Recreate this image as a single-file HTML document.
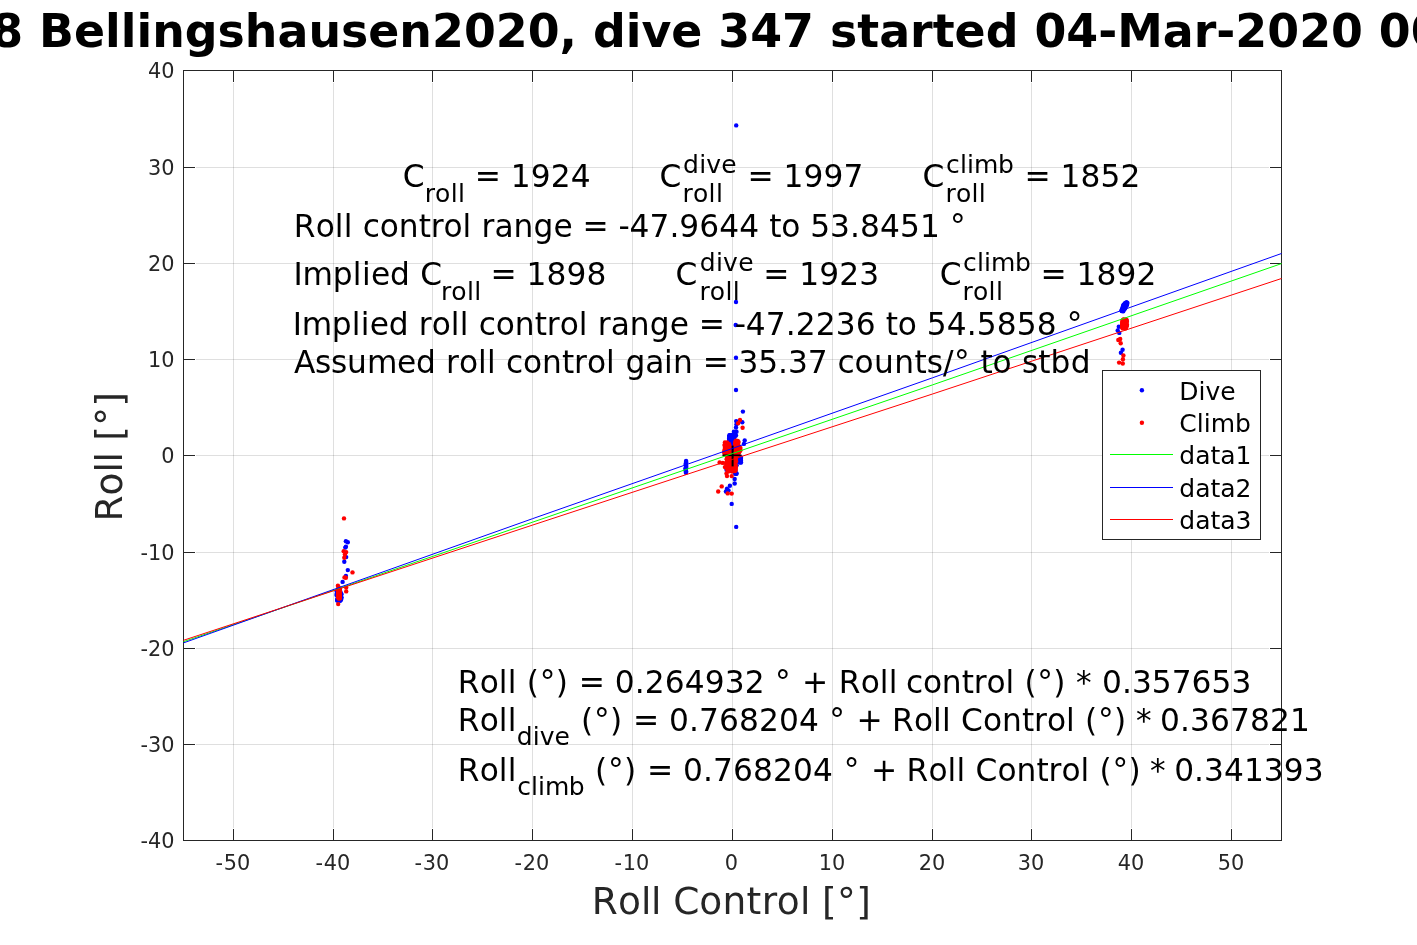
<!DOCTYPE html>
<html lang="en"><head><meta charset="utf-8"><title>Roll vs Roll Control</title>
<style>html,body{margin:0;padding:0;background:#fff;overflow:hidden}svg{display:block}text{font-family:"DejaVu Sans","Liberation Sans",sans-serif;white-space:pre}</style>
</head><body>
<svg width="1417" height="945" viewBox="0 0 1417 945">
<rect x="0" y="0" width="1417" height="945" fill="#fff"/>
<g stroke="#262626" stroke-opacity="0.15" stroke-width="1" shape-rendering="crispEdges">
<line x1="233.5" y1="83.0" x2="233.5" y2="828.0"/>
<line x1="333.5" y1="83.0" x2="333.5" y2="828.0"/>
<line x1="432.5" y1="83.0" x2="432.5" y2="828.0"/>
<line x1="532.5" y1="83.0" x2="532.5" y2="828.0"/>
<line x1="632.5" y1="83.0" x2="632.5" y2="828.0"/>
<line x1="732.5" y1="83.0" x2="732.5" y2="828.0"/>
<line x1="832.5" y1="83.0" x2="832.5" y2="828.0"/>
<line x1="932.5" y1="83.0" x2="932.5" y2="828.0"/>
<line x1="1031.5" y1="83.0" x2="1031.5" y2="828.0"/>
<line x1="1131.5" y1="83.0" x2="1131.5" y2="828.0"/>
<line x1="1231.5" y1="83.0" x2="1231.5" y2="828.0"/>
<line x1="196.0" y1="744.5" x2="1269.0" y2="744.5"/>
<line x1="196.0" y1="648.5" x2="1269.0" y2="648.5"/>
<line x1="196.0" y1="552.5" x2="1269.0" y2="552.5"/>
<line x1="196.0" y1="455.5" x2="1269.0" y2="455.5"/>
<line x1="196.0" y1="359.5" x2="1269.0" y2="359.5"/>
<line x1="196.0" y1="263.5" x2="1269.0" y2="263.5"/>
<line x1="196.0" y1="167.5" x2="1269.0" y2="167.5"/>
</g>
<g stroke="#262626" stroke-width="1" fill="none" shape-rendering="crispEdges">
<rect x="183.5" y="70.5" width="1098.0" height="770.0"/>
<line x1="233.5" y1="840.5" x2="233.5" y2="829.0"/><line x1="233.5" y1="70.5" x2="233.5" y2="82.0"/>
<line x1="333.5" y1="840.5" x2="333.5" y2="829.0"/><line x1="333.5" y1="70.5" x2="333.5" y2="82.0"/>
<line x1="432.5" y1="840.5" x2="432.5" y2="829.0"/><line x1="432.5" y1="70.5" x2="432.5" y2="82.0"/>
<line x1="532.5" y1="840.5" x2="532.5" y2="829.0"/><line x1="532.5" y1="70.5" x2="532.5" y2="82.0"/>
<line x1="632.5" y1="840.5" x2="632.5" y2="829.0"/><line x1="632.5" y1="70.5" x2="632.5" y2="82.0"/>
<line x1="732.5" y1="840.5" x2="732.5" y2="829.0"/><line x1="732.5" y1="70.5" x2="732.5" y2="82.0"/>
<line x1="832.5" y1="840.5" x2="832.5" y2="829.0"/><line x1="832.5" y1="70.5" x2="832.5" y2="82.0"/>
<line x1="932.5" y1="840.5" x2="932.5" y2="829.0"/><line x1="932.5" y1="70.5" x2="932.5" y2="82.0"/>
<line x1="1031.5" y1="840.5" x2="1031.5" y2="829.0"/><line x1="1031.5" y1="70.5" x2="1031.5" y2="82.0"/>
<line x1="1131.5" y1="840.5" x2="1131.5" y2="829.0"/><line x1="1131.5" y1="70.5" x2="1131.5" y2="82.0"/>
<line x1="1231.5" y1="840.5" x2="1231.5" y2="829.0"/><line x1="1231.5" y1="70.5" x2="1231.5" y2="82.0"/>
<line x1="183.5" y1="744.5" x2="195.0" y2="744.5"/><line x1="1281.5" y1="744.5" x2="1270.0" y2="744.5"/>
<line x1="183.5" y1="648.5" x2="195.0" y2="648.5"/><line x1="1281.5" y1="648.5" x2="1270.0" y2="648.5"/>
<line x1="183.5" y1="552.5" x2="195.0" y2="552.5"/><line x1="1281.5" y1="552.5" x2="1270.0" y2="552.5"/>
<line x1="183.5" y1="455.5" x2="195.0" y2="455.5"/><line x1="1281.5" y1="455.5" x2="1270.0" y2="455.5"/>
<line x1="183.5" y1="359.5" x2="195.0" y2="359.5"/><line x1="1281.5" y1="359.5" x2="1270.0" y2="359.5"/>
<line x1="183.5" y1="263.5" x2="195.0" y2="263.5"/><line x1="1281.5" y1="263.5" x2="1270.0" y2="263.5"/>
<line x1="183.5" y1="167.5" x2="195.0" y2="167.5"/><line x1="1281.5" y1="167.5" x2="1270.0" y2="167.5"/>
</g>
<g fill="#0000ff">
<circle cx="736.2" cy="125.4" r="2.2"/><circle cx="736.0" cy="302.0" r="2.2"/><circle cx="735.7" cy="325.0" r="2.2"/><circle cx="736.0" cy="357.8" r="2.2"/><circle cx="736.0" cy="390.0" r="2.2"/><circle cx="742.9" cy="411.6" r="2.2"/><circle cx="736.2" cy="421.1" r="2.2"/><circle cx="742.3" cy="422.2" r="2.2"/><circle cx="736.5" cy="424.3" r="2.2"/><circle cx="736.0" cy="427.5" r="2.2"/><circle cx="733.9" cy="431.7" r="2.2"/><circle cx="736.5" cy="431.7" r="2.2"/><circle cx="731.2" cy="435.9" r="2.2"/><circle cx="736.0" cy="435.4" r="2.2"/><circle cx="744.7" cy="440.5" r="2.2"/><circle cx="743.9" cy="443.9" r="2.2"/><circle cx="740.7" cy="458.7" r="2.2"/><circle cx="740.7" cy="461.3" r="2.2"/><circle cx="726.5" cy="469.8" r="2.2"/><circle cx="736.5" cy="473.5" r="2.2"/><circle cx="734.7" cy="479.0" r="2.2"/><circle cx="734.7" cy="483.5" r="2.2"/><circle cx="729.9" cy="485.7" r="2.2"/><circle cx="727.0" cy="488.8" r="2.2"/><circle cx="725.9" cy="491.5" r="2.2"/><circle cx="728.5" cy="490.5" r="2.2"/><circle cx="731.7" cy="503.9" r="2.2"/><circle cx="736.2" cy="526.9" r="2.2"/><circle cx="730.9" cy="435.8" r="2.2"/><circle cx="732.9" cy="435.0" r="2.2"/><circle cx="732.2" cy="437.8" r="2.2"/><circle cx="729.3" cy="439.2" r="2.2"/><circle cx="729.2" cy="438.5" r="2.2"/><circle cx="729.4" cy="435.2" r="2.2"/><circle cx="731.5" cy="442.3" r="2.2"/><circle cx="729.7" cy="436.5" r="2.2"/><circle cx="732.8" cy="443.5" r="2.2"/><circle cx="732.5" cy="438.1" r="2.2"/><circle cx="734.9" cy="434.8" r="2.2"/><circle cx="734.2" cy="437.1" r="2.2"/><circle cx="729.9" cy="435.4" r="2.2"/><circle cx="730.9" cy="442.2" r="2.2"/><circle cx="730.1" cy="439.9" r="2.2"/><circle cx="732.8" cy="437.9" r="2.2"/><circle cx="732.3" cy="434.9" r="2.2"/><circle cx="729.4" cy="436.3" r="2.2"/><circle cx="733.1" cy="438.4" r="2.2"/><circle cx="730.9" cy="440.0" r="2.2"/><circle cx="731.7" cy="437.2" r="2.2"/><circle cx="733.8" cy="441.1" r="2.2"/><circle cx="730.5" cy="439.9" r="2.2"/><circle cx="732.2" cy="442.8" r="2.2"/><circle cx="733.4" cy="437.1" r="2.2"/><circle cx="734.9" cy="435.4" r="2.2"/><circle cx="731.5" cy="441.6" r="2.2"/><circle cx="729.9" cy="439.0" r="2.2"/><circle cx="729.2" cy="440.8" r="2.2"/><circle cx="733.6" cy="439.9" r="2.2"/><circle cx="734.3" cy="437.3" r="2.2"/><circle cx="733.2" cy="440.1" r="2.2"/><circle cx="732.5" cy="438.7" r="2.2"/><circle cx="734.0" cy="443.5" r="2.2"/><circle cx="731.8" cy="440.7" r="2.2"/><circle cx="729.4" cy="441.1" r="2.2"/><circle cx="732.9" cy="443.9" r="2.2"/><circle cx="733.9" cy="437.1" r="2.2"/><circle cx="731.3" cy="440.8" r="2.2"/><circle cx="729.1" cy="438.8" r="2.2"/><circle cx="730.0" cy="435.4" r="2.2"/><circle cx="729.4" cy="441.8" r="2.2"/><circle cx="729.8" cy="436.7" r="2.2"/><circle cx="731.3" cy="442.8" r="2.2"/><circle cx="729.5" cy="438.7" r="2.2"/><circle cx="733.3" cy="454.6" r="2.2"/><circle cx="734.9" cy="454.4" r="2.2"/><circle cx="731.7" cy="449.0" r="2.2"/><circle cx="732.2" cy="454.6" r="2.2"/><circle cx="735.7" cy="445.8" r="2.2"/><circle cx="731.1" cy="446.8" r="2.2"/><circle cx="731.4" cy="449.8" r="2.2"/><circle cx="733.5" cy="447.2" r="2.2"/><circle cx="730.0" cy="449.0" r="2.2"/><circle cx="732.2" cy="450.8" r="2.2"/><circle cx="735.7" cy="452.3" r="2.2"/><circle cx="733.1" cy="451.4" r="2.2"/><circle cx="734.1" cy="444.6" r="2.2"/><circle cx="735.4" cy="453.4" r="2.2"/><circle cx="735.2" cy="453.6" r="2.2"/><circle cx="732.4" cy="448.8" r="2.2"/><circle cx="730.6" cy="451.6" r="2.2"/><circle cx="730.4" cy="444.8" r="2.2"/><circle cx="731.3" cy="445.9" r="2.2"/><circle cx="732.0" cy="444.6" r="2.2"/><circle cx="730.0" cy="445.8" r="2.2"/><circle cx="730.6" cy="448.4" r="2.2"/><circle cx="730.2" cy="454.5" r="2.2"/><circle cx="733.7" cy="445.8" r="2.2"/><circle cx="731.5" cy="448.2" r="2.2"/><circle cx="740.0" cy="457.7" r="2.2"/><circle cx="741.0" cy="462.5" r="2.2"/><circle cx="740.2" cy="459.7" r="2.2"/><circle cx="739.5" cy="457.6" r="2.2"/><circle cx="740.0" cy="458.5" r="2.2"/><circle cx="741.0" cy="457.9" r="2.2"/><circle cx="739.3" cy="462.2" r="2.2"/><circle cx="740.4" cy="457.8" r="2.2"/><circle cx="740.4" cy="457.1" r="2.2"/><circle cx="740.4" cy="462.4" r="2.2"/><circle cx="741.0" cy="460.8" r="2.2"/><circle cx="739.8" cy="459.0" r="2.2"/><circle cx="739.6" cy="461.2" r="2.2"/><circle cx="740.4" cy="461.3" r="2.2"/><circle cx="730.3" cy="461.6" r="2.2"/><circle cx="735.1" cy="473.8" r="2.2"/><circle cx="735.5" cy="470.9" r="2.2"/><circle cx="735.2" cy="469.8" r="2.2"/><circle cx="729.3" cy="466.3" r="2.2"/><circle cx="730.6" cy="458.5" r="2.2"/><circle cx="727.3" cy="462.5" r="2.2"/><circle cx="729.6" cy="469.1" r="2.2"/><circle cx="736.6" cy="465.2" r="2.2"/><circle cx="736.4" cy="473.8" r="2.2"/><circle cx="345.9" cy="541.3" r="2.2"/><circle cx="347.8" cy="542.3" r="2.2"/><circle cx="345.9" cy="546.7" r="2.2"/><circle cx="345.3" cy="547.6" r="2.2"/><circle cx="346.2" cy="557.1" r="2.2"/><circle cx="344.3" cy="561.8" r="2.2"/><circle cx="347.8" cy="570.1" r="2.2"/><circle cx="345.9" cy="575.9" r="2.2"/><circle cx="342.6" cy="581.9" r="2.2"/><circle cx="336.9" cy="593.5" r="2.2"/><circle cx="339.6" cy="597.8" r="2.2"/><circle cx="336.8" cy="591.7" r="2.2"/><circle cx="339.0" cy="596.7" r="2.2"/><circle cx="338.3" cy="593.2" r="2.2"/><circle cx="339.4" cy="591.1" r="2.2"/><circle cx="337.8" cy="595.5" r="2.2"/><circle cx="341.4" cy="597.3" r="2.2"/><circle cx="341.0" cy="595.7" r="2.2"/><circle cx="337.5" cy="593.4" r="2.2"/><circle cx="341.4" cy="597.9" r="2.2"/><circle cx="337.9" cy="591.2" r="2.2"/><circle cx="338.9" cy="597.6" r="2.2"/><circle cx="338.5" cy="593.5" r="2.2"/><circle cx="339.8" cy="600.1" r="2.2"/><circle cx="337.4" cy="591.3" r="2.2"/><circle cx="338.0" cy="595.1" r="2.2"/><circle cx="339.9" cy="592.9" r="2.2"/><circle cx="340.5" cy="598.2" r="2.2"/><circle cx="338.9" cy="593.0" r="2.2"/><circle cx="341.4" cy="594.1" r="2.2"/><circle cx="340.6" cy="593.3" r="2.2"/><circle cx="337.4" cy="598.5" r="2.2"/><circle cx="337.8" cy="600.3" r="2.2"/><circle cx="338.9" cy="592.8" r="2.2"/><circle cx="337.4" cy="595.1" r="2.2"/><circle cx="339.8" cy="600.3" r="2.2"/><circle cx="337.0" cy="594.9" r="2.2"/><circle cx="337.3" cy="600.5" r="2.2"/><circle cx="337.0" cy="591.5" r="2.2"/><circle cx="336.5" cy="594.9" r="2.2"/><circle cx="341.1" cy="599.7" r="2.2"/><circle cx="340.2" cy="600.8" r="2.2"/><circle cx="341.2" cy="594.2" r="2.2"/><circle cx="337.2" cy="600.2" r="2.2"/><circle cx="340.2" cy="591.3" r="2.2"/><circle cx="339.8" cy="594.7" r="2.2"/><circle cx="338.2" cy="594.3" r="2.2"/><circle cx="337.1" cy="591.0" r="2.2"/><circle cx="337.7" cy="594.4" r="2.2"/><circle cx="686.1" cy="461.0" r="2.2"/><circle cx="686.0" cy="461.9" r="2.2"/><circle cx="686.2" cy="462.8" r="2.2"/><circle cx="685.7" cy="463.7" r="2.2"/><circle cx="685.9" cy="464.6" r="2.2"/><circle cx="686.1" cy="465.5" r="2.2"/><circle cx="686.1" cy="466.4" r="2.2"/><circle cx="686.1" cy="467.3" r="2.2"/><circle cx="685.6" cy="468.2" r="2.2"/><circle cx="685.8" cy="469.1" r="2.2"/><circle cx="685.7" cy="470.0" r="2.2"/><circle cx="685.7" cy="470.9" r="2.2"/><circle cx="686.2" cy="471.8" r="2.2"/><circle cx="685.9" cy="472.7" r="2.2"/><circle cx="1122.5" cy="310.9" r="2.2"/><circle cx="1123.9" cy="307.2" r="2.2"/><circle cx="1121.6" cy="310.3" r="2.2"/><circle cx="1123.1" cy="307.3" r="2.2"/><circle cx="1124.8" cy="303.5" r="2.2"/><circle cx="1124.5" cy="306.7" r="2.2"/><circle cx="1125.6" cy="303.8" r="2.2"/><circle cx="1125.0" cy="303.7" r="2.2"/><circle cx="1123.5" cy="307.7" r="2.2"/><circle cx="1125.5" cy="304.1" r="2.2"/><circle cx="1122.7" cy="306.9" r="2.2"/><circle cx="1123.4" cy="307.6" r="2.2"/><circle cx="1126.5" cy="304.9" r="2.2"/><circle cx="1123.7" cy="307.0" r="2.2"/><circle cx="1124.6" cy="309.0" r="2.2"/><circle cx="1126.2" cy="303.8" r="2.2"/><circle cx="1127.4" cy="303.0" r="2.2"/><circle cx="1123.0" cy="310.2" r="2.2"/><circle cx="1123.5" cy="305.2" r="2.2"/><circle cx="1124.6" cy="308.3" r="2.2"/><circle cx="1126.2" cy="303.5" r="2.2"/><circle cx="1123.3" cy="306.2" r="2.2"/><circle cx="1125.6" cy="305.9" r="2.2"/><circle cx="1125.3" cy="308.0" r="2.2"/><circle cx="1124.4" cy="305.9" r="2.2"/><circle cx="1122.6" cy="309.0" r="2.2"/><circle cx="1122.5" cy="311.0" r="2.2"/><circle cx="1124.9" cy="306.7" r="2.2"/><circle cx="1122.5" cy="308.6" r="2.2"/><circle cx="1124.1" cy="308.4" r="2.2"/><circle cx="1125.1" cy="304.8" r="2.2"/><circle cx="1123.7" cy="305.3" r="2.2"/><circle cx="1124.8" cy="307.1" r="2.2"/><circle cx="1124.9" cy="306.0" r="2.2"/><circle cx="1122.0" cy="309.5" r="2.2"/><circle cx="1124.6" cy="306.6" r="2.2"/><circle cx="1124.9" cy="306.0" r="2.2"/><circle cx="1123.7" cy="307.8" r="2.2"/><circle cx="1126.5" cy="303.3" r="2.2"/><circle cx="1126.1" cy="305.7" r="2.2"/><circle cx="1123.6" cy="306.4" r="2.2"/><circle cx="1124.7" cy="303.8" r="2.2"/><circle cx="1125.7" cy="303.9" r="2.2"/><circle cx="1126.5" cy="302.3" r="2.2"/><circle cx="1124.4" cy="308.5" r="2.2"/><circle cx="1126.0" cy="303.2" r="2.2"/><circle cx="1121.7" cy="311.0" r="2.2"/><circle cx="1123.3" cy="311.3" r="2.2"/><circle cx="1126.9" cy="304.6" r="2.2"/><circle cx="1124.0" cy="309.2" r="2.2"/><circle cx="1124.7" cy="307.7" r="2.2"/><circle cx="1125.7" cy="304.8" r="2.2"/><circle cx="1122.3" cy="310.5" r="2.2"/><circle cx="1125.7" cy="305.4" r="2.2"/><circle cx="1124.7" cy="304.7" r="2.2"/><circle cx="1123.7" cy="304.6" r="2.2"/><circle cx="1126.9" cy="304.9" r="2.2"/><circle cx="1122.0" cy="310.4" r="2.2"/><circle cx="1125.9" cy="304.4" r="2.2"/><circle cx="1126.0" cy="305.9" r="2.2"/><circle cx="1118.8" cy="326.7" r="2.2"/><circle cx="1117.7" cy="330.5" r="2.2"/><circle cx="1119.3" cy="332.9" r="2.2"/><circle cx="1122.6" cy="349.8" r="2.2"/><circle cx="1120.9" cy="352.7" r="2.2"/>
</g>
<g fill="#ff0000">
<circle cx="740.0" cy="420.0" r="2.2"/><circle cx="738.1" cy="423.2" r="2.2"/><circle cx="742.6" cy="427.8" r="2.2"/><circle cx="719.6" cy="462.4" r="2.2"/><circle cx="722.8" cy="462.9" r="2.2"/><circle cx="724.9" cy="467.1" r="2.2"/><circle cx="726.5" cy="473.5" r="2.2"/><circle cx="727.0" cy="476.1" r="2.2"/><circle cx="731.7" cy="476.1" r="2.2"/><circle cx="721.7" cy="486.4" r="2.2"/><circle cx="718.2" cy="491.5" r="2.2"/><circle cx="727.7" cy="493.4" r="2.2"/><circle cx="731.7" cy="493.6" r="2.2"/><circle cx="729.5" cy="446.9" r="2.2"/><circle cx="725.4" cy="445.2" r="2.2"/><circle cx="725.3" cy="444.9" r="2.2"/><circle cx="727.7" cy="453.7" r="2.2"/><circle cx="728.9" cy="448.4" r="2.2"/><circle cx="727.9" cy="452.5" r="2.2"/><circle cx="724.7" cy="450.7" r="2.2"/><circle cx="729.3" cy="452.2" r="2.2"/><circle cx="728.4" cy="448.4" r="2.2"/><circle cx="725.2" cy="452.3" r="2.2"/><circle cx="726.1" cy="452.5" r="2.2"/><circle cx="729.6" cy="447.3" r="2.2"/><circle cx="726.4" cy="454.3" r="2.2"/><circle cx="728.3" cy="444.5" r="2.2"/><circle cx="724.9" cy="444.2" r="2.2"/><circle cx="729.3" cy="452.5" r="2.2"/><circle cx="725.0" cy="452.8" r="2.2"/><circle cx="729.7" cy="450.6" r="2.2"/><circle cx="726.2" cy="449.3" r="2.2"/><circle cx="724.9" cy="442.5" r="2.2"/><circle cx="729.6" cy="450.6" r="2.2"/><circle cx="727.1" cy="454.2" r="2.2"/><circle cx="726.6" cy="453.4" r="2.2"/><circle cx="728.8" cy="445.0" r="2.2"/><circle cx="725.6" cy="446.0" r="2.2"/><circle cx="725.5" cy="449.7" r="2.2"/><circle cx="725.7" cy="447.6" r="2.2"/><circle cx="724.9" cy="453.9" r="2.2"/><circle cx="726.2" cy="448.1" r="2.2"/><circle cx="727.5" cy="453.8" r="2.2"/><circle cx="726.6" cy="454.0" r="2.2"/><circle cx="727.0" cy="449.1" r="2.2"/><circle cx="727.1" cy="442.5" r="2.2"/><circle cx="726.7" cy="444.6" r="2.2"/><circle cx="724.2" cy="452.4" r="2.2"/><circle cx="725.2" cy="448.3" r="2.2"/><circle cx="728.3" cy="449.4" r="2.2"/><circle cx="726.0" cy="448.9" r="2.2"/><circle cx="727.3" cy="452.3" r="2.2"/><circle cx="724.8" cy="449.4" r="2.2"/><circle cx="725.6" cy="445.8" r="2.2"/><circle cx="728.5" cy="448.7" r="2.2"/><circle cx="727.3" cy="452.0" r="2.2"/><circle cx="729.3" cy="447.9" r="2.2"/><circle cx="727.6" cy="448.7" r="2.2"/><circle cx="727.1" cy="451.1" r="2.2"/><circle cx="726.7" cy="449.1" r="2.2"/><circle cx="726.9" cy="454.3" r="2.2"/><circle cx="728.1" cy="453.4" r="2.2"/><circle cx="729.5" cy="445.6" r="2.2"/><circle cx="727.3" cy="454.3" r="2.2"/><circle cx="728.9" cy="444.0" r="2.2"/><circle cx="724.9" cy="447.9" r="2.2"/><circle cx="724.6" cy="445.4" r="2.2"/><circle cx="724.6" cy="450.8" r="2.2"/><circle cx="728.6" cy="453.7" r="2.2"/><circle cx="725.1" cy="451.4" r="2.2"/><circle cx="727.9" cy="444.1" r="2.2"/><circle cx="729.1" cy="454.6" r="2.2"/><circle cx="725.4" cy="454.4" r="2.2"/><circle cx="736.6" cy="447.6" r="2.2"/><circle cx="738.8" cy="452.6" r="2.2"/><circle cx="735.8" cy="446.8" r="2.2"/><circle cx="737.1" cy="445.5" r="2.2"/><circle cx="735.9" cy="445.2" r="2.2"/><circle cx="737.8" cy="440.9" r="2.2"/><circle cx="737.2" cy="446.9" r="2.2"/><circle cx="735.3" cy="445.4" r="2.2"/><circle cx="737.4" cy="448.0" r="2.2"/><circle cx="735.4" cy="454.8" r="2.2"/><circle cx="738.0" cy="454.6" r="2.2"/><circle cx="735.6" cy="444.4" r="2.2"/><circle cx="735.3" cy="451.8" r="2.2"/><circle cx="736.2" cy="442.5" r="2.2"/><circle cx="736.7" cy="453.7" r="2.2"/><circle cx="738.1" cy="444.3" r="2.2"/><circle cx="735.7" cy="453.8" r="2.2"/><circle cx="737.3" cy="450.7" r="2.2"/><circle cx="735.5" cy="441.4" r="2.2"/><circle cx="737.7" cy="446.7" r="2.2"/><circle cx="735.5" cy="454.1" r="2.2"/><circle cx="737.5" cy="452.1" r="2.2"/><circle cx="735.5" cy="452.9" r="2.2"/><circle cx="735.4" cy="453.0" r="2.2"/><circle cx="736.8" cy="445.5" r="2.2"/><circle cx="737.2" cy="453.9" r="2.2"/><circle cx="736.2" cy="442.5" r="2.2"/><circle cx="737.1" cy="444.0" r="2.2"/><circle cx="735.6" cy="442.9" r="2.2"/><circle cx="735.4" cy="443.5" r="2.2"/><circle cx="736.3" cy="445.0" r="2.2"/><circle cx="737.9" cy="444.8" r="2.2"/><circle cx="737.0" cy="443.2" r="2.2"/><circle cx="736.4" cy="440.9" r="2.2"/><circle cx="736.1" cy="440.8" r="2.2"/><circle cx="737.8" cy="448.5" r="2.2"/><circle cx="735.9" cy="447.4" r="2.2"/><circle cx="738.6" cy="442.1" r="2.2"/><circle cx="738.1" cy="446.8" r="2.2"/><circle cx="737.0" cy="452.6" r="2.2"/><circle cx="736.6" cy="447.9" r="2.2"/><circle cx="737.7" cy="454.7" r="2.2"/><circle cx="736.4" cy="452.6" r="2.2"/><circle cx="737.7" cy="449.8" r="2.2"/><circle cx="736.7" cy="445.6" r="2.2"/><circle cx="735.4" cy="442.5" r="2.2"/><circle cx="735.5" cy="451.3" r="2.2"/><circle cx="736.1" cy="443.0" r="2.2"/><circle cx="735.5" cy="452.7" r="2.2"/><circle cx="738.3" cy="450.3" r="2.2"/><circle cx="737.3" cy="448.5" r="2.2"/><circle cx="737.3" cy="449.8" r="2.2"/><circle cx="736.7" cy="449.7" r="2.2"/><circle cx="737.2" cy="452.8" r="2.2"/><circle cx="740.4" cy="450.3" r="2.2"/><circle cx="737.1" cy="452.8" r="2.2"/><circle cx="737.4" cy="449.1" r="2.2"/><circle cx="736.0" cy="449.3" r="2.2"/><circle cx="738.1" cy="450.0" r="2.2"/><circle cx="736.9" cy="450.0" r="2.2"/><circle cx="736.0" cy="448.6" r="2.2"/><circle cx="736.4" cy="449.4" r="2.2"/><circle cx="736.2" cy="447.1" r="2.2"/><circle cx="737.4" cy="448.4" r="2.2"/><circle cx="738.6" cy="450.2" r="2.2"/><circle cx="739.4" cy="450.9" r="2.2"/><circle cx="739.2" cy="452.3" r="2.2"/><circle cx="737.8" cy="449.0" r="2.2"/><circle cx="740.4" cy="447.9" r="2.2"/><circle cx="739.3" cy="450.9" r="2.2"/><circle cx="734.8" cy="455.7" r="2.2"/><circle cx="732.5" cy="469.7" r="2.2"/><circle cx="734.3" cy="467.1" r="2.2"/><circle cx="731.6" cy="457.3" r="2.2"/><circle cx="734.7" cy="463.3" r="2.2"/><circle cx="734.3" cy="468.3" r="2.2"/><circle cx="735.3" cy="464.6" r="2.2"/><circle cx="733.2" cy="466.3" r="2.2"/><circle cx="726.7" cy="458.8" r="2.2"/><circle cx="730.0" cy="457.2" r="2.2"/><circle cx="734.8" cy="456.7" r="2.2"/><circle cx="732.7" cy="464.2" r="2.2"/><circle cx="733.1" cy="465.3" r="2.2"/><circle cx="726.4" cy="463.1" r="2.2"/><circle cx="733.6" cy="468.2" r="2.2"/><circle cx="731.8" cy="463.3" r="2.2"/><circle cx="727.3" cy="465.9" r="2.2"/><circle cx="729.1" cy="467.2" r="2.2"/><circle cx="729.1" cy="456.2" r="2.2"/><circle cx="728.7" cy="467.0" r="2.2"/><circle cx="735.8" cy="467.2" r="2.2"/><circle cx="730.2" cy="463.2" r="2.2"/><circle cx="733.2" cy="462.9" r="2.2"/><circle cx="732.5" cy="467.7" r="2.2"/><circle cx="727.3" cy="465.6" r="2.2"/><circle cx="728.9" cy="457.4" r="2.2"/><circle cx="729.6" cy="467.3" r="2.2"/><circle cx="726.6" cy="464.4" r="2.2"/><circle cx="729.1" cy="456.0" r="2.2"/><circle cx="733.2" cy="466.1" r="2.2"/><circle cx="729.4" cy="466.1" r="2.2"/><circle cx="731.0" cy="463.5" r="2.2"/><circle cx="727.6" cy="462.7" r="2.2"/><circle cx="728.8" cy="469.7" r="2.2"/><circle cx="735.0" cy="471.1" r="2.2"/><circle cx="731.0" cy="455.3" r="2.2"/><circle cx="735.6" cy="468.5" r="2.2"/><circle cx="729.1" cy="462.4" r="2.2"/><circle cx="735.9" cy="458.5" r="2.2"/><circle cx="732.2" cy="458.5" r="2.2"/><circle cx="731.6" cy="457.3" r="2.2"/><circle cx="728.3" cy="470.7" r="2.2"/><circle cx="731.5" cy="468.5" r="2.2"/><circle cx="733.2" cy="469.6" r="2.2"/><circle cx="735.4" cy="458.8" r="2.2"/><circle cx="726.6" cy="463.0" r="2.2"/><circle cx="731.3" cy="455.1" r="2.2"/><circle cx="729.4" cy="462.4" r="2.2"/><circle cx="729.8" cy="457.3" r="2.2"/><circle cx="734.8" cy="460.2" r="2.2"/><circle cx="733.9" cy="455.0" r="2.2"/><circle cx="728.0" cy="468.8" r="2.2"/><circle cx="733.2" cy="470.3" r="2.2"/><circle cx="729.6" cy="469.9" r="2.2"/><circle cx="730.3" cy="461.1" r="2.2"/><circle cx="732.1" cy="471.5" r="2.2"/><circle cx="730.7" cy="461.0" r="2.2"/><circle cx="726.9" cy="459.5" r="2.2"/><circle cx="734.7" cy="456.7" r="2.2"/><circle cx="735.8" cy="459.7" r="2.2"/><circle cx="729.1" cy="459.1" r="2.2"/><circle cx="728.3" cy="463.4" r="2.2"/><circle cx="736.0" cy="461.2" r="2.2"/><circle cx="734.1" cy="469.6" r="2.2"/><circle cx="735.4" cy="465.4" r="2.2"/><circle cx="731.8" cy="470.5" r="2.2"/><circle cx="727.2" cy="466.9" r="2.2"/><circle cx="730.9" cy="467.1" r="2.2"/><circle cx="732.7" cy="467.4" r="2.2"/><circle cx="726.9" cy="459.7" r="2.2"/><circle cx="728.2" cy="470.3" r="2.2"/><circle cx="729.8" cy="462.8" r="2.2"/><circle cx="733.8" cy="459.9" r="2.2"/><circle cx="729.4" cy="471.1" r="2.2"/><circle cx="729.5" cy="465.8" r="2.2"/><circle cx="730.3" cy="464.2" r="2.2"/><circle cx="728.0" cy="457.8" r="2.2"/><circle cx="735.5" cy="458.4" r="2.2"/><circle cx="728.6" cy="463.2" r="2.2"/><circle cx="735.7" cy="470.0" r="2.2"/><circle cx="727.8" cy="462.4" r="2.2"/><circle cx="727.3" cy="458.2" r="2.2"/><circle cx="727.3" cy="460.6" r="2.2"/><circle cx="729.0" cy="458.9" r="2.2"/><circle cx="735.2" cy="464.4" r="2.2"/><circle cx="730.6" cy="467.4" r="2.2"/><circle cx="731.6" cy="461.8" r="2.2"/><circle cx="729.8" cy="461.2" r="2.2"/><circle cx="729.2" cy="456.0" r="2.2"/><circle cx="728.3" cy="471.0" r="2.2"/><circle cx="732.7" cy="463.3" r="2.2"/><circle cx="728.9" cy="469.2" r="2.2"/><circle cx="728.9" cy="459.5" r="2.2"/><circle cx="730.9" cy="461.6" r="2.2"/><circle cx="734.3" cy="470.7" r="2.2"/><circle cx="727.2" cy="469.4" r="2.2"/><circle cx="733.5" cy="455.5" r="2.2"/><circle cx="731.2" cy="469.8" r="2.2"/><circle cx="726.5" cy="464.7" r="2.2"/><circle cx="735.7" cy="461.5" r="2.2"/><circle cx="734.6" cy="468.6" r="2.2"/><circle cx="729.3" cy="471.0" r="2.2"/><circle cx="727.9" cy="456.8" r="2.2"/><circle cx="733.2" cy="463.6" r="2.2"/><circle cx="733.3" cy="470.5" r="2.2"/><circle cx="733.9" cy="465.7" r="2.2"/><circle cx="731.9" cy="462.5" r="2.2"/><circle cx="734.2" cy="455.7" r="2.2"/><circle cx="735.6" cy="458.8" r="2.2"/><circle cx="729.5" cy="465.7" r="2.2"/><circle cx="344.0" cy="518.4" r="2.2"/><circle cx="343.7" cy="551.2" r="2.2"/><circle cx="346.2" cy="552.1" r="2.2"/><circle cx="344.9" cy="554.6" r="2.2"/><circle cx="344.3" cy="557.8" r="2.2"/><circle cx="352.5" cy="572.4" r="2.2"/><circle cx="345.9" cy="577.7" r="2.2"/><circle cx="344.5" cy="577.4" r="2.2"/><circle cx="337.9" cy="585.7" r="2.2"/><circle cx="346.2" cy="587.6" r="2.2"/><circle cx="346.2" cy="591.4" r="2.2"/><circle cx="338.2" cy="604.1" r="2.2"/><circle cx="339.8" cy="589.6" r="2.2"/><circle cx="339.8" cy="590.4" r="2.2"/><circle cx="338.7" cy="596.7" r="2.2"/><circle cx="339.6" cy="592.7" r="2.2"/><circle cx="338.1" cy="593.1" r="2.2"/><circle cx="338.7" cy="597.7" r="2.2"/><circle cx="338.4" cy="592.0" r="2.2"/><circle cx="339.7" cy="588.6" r="2.2"/><circle cx="338.8" cy="596.6" r="2.2"/><circle cx="339.5" cy="588.7" r="2.2"/><circle cx="338.1" cy="588.9" r="2.2"/><circle cx="339.7" cy="590.9" r="2.2"/><circle cx="339.4" cy="597.5" r="2.2"/><circle cx="338.6" cy="591.1" r="2.2"/><circle cx="339.8" cy="594.6" r="2.2"/><circle cx="338.5" cy="595.6" r="2.2"/><circle cx="338.6" cy="591.1" r="2.2"/><circle cx="338.0" cy="596.0" r="2.2"/><circle cx="339.7" cy="594.8" r="2.2"/><circle cx="339.8" cy="588.5" r="2.2"/><circle cx="338.4" cy="593.1" r="2.2"/><circle cx="339.8" cy="598.0" r="2.2"/><circle cx="338.7" cy="590.9" r="2.2"/><circle cx="338.8" cy="593.3" r="2.2"/><circle cx="339.8" cy="590.2" r="2.2"/><circle cx="339.5" cy="595.8" r="2.2"/><circle cx="339.6" cy="596.2" r="2.2"/><circle cx="339.2" cy="591.6" r="2.2"/><circle cx="338.6" cy="592.0" r="2.2"/><circle cx="339.5" cy="589.1" r="2.2"/><circle cx="338.4" cy="596.0" r="2.2"/><circle cx="338.5" cy="589.0" r="2.2"/><circle cx="338.1" cy="593.9" r="2.2"/><circle cx="338.6" cy="598.3" r="2.2"/><circle cx="339.7" cy="598.4" r="2.2"/><circle cx="338.5" cy="589.2" r="2.2"/><circle cx="338.2" cy="593.4" r="2.2"/><circle cx="339.3" cy="592.9" r="2.2"/><circle cx="338.4" cy="592.6" r="2.2"/><circle cx="339.2" cy="595.2" r="2.2"/><circle cx="339.4" cy="596.9" r="2.2"/><circle cx="339.3" cy="589.5" r="2.2"/><circle cx="339.6" cy="591.3" r="2.2"/><circle cx="339.1" cy="592.1" r="2.2"/><circle cx="339.4" cy="590.3" r="2.2"/><circle cx="338.5" cy="590.8" r="2.2"/><circle cx="338.3" cy="597.3" r="2.2"/><circle cx="339.1" cy="591.6" r="2.2"/><circle cx="338.8" cy="598.4" r="2.2"/><circle cx="339.0" cy="590.7" r="2.2"/><circle cx="1125.0" cy="327.4" r="2.2"/><circle cx="1122.7" cy="328.4" r="2.2"/><circle cx="1125.2" cy="323.0" r="2.2"/><circle cx="1126.0" cy="321.9" r="2.2"/><circle cx="1127.0" cy="324.7" r="2.2"/><circle cx="1123.9" cy="326.4" r="2.2"/><circle cx="1124.3" cy="321.1" r="2.2"/><circle cx="1125.8" cy="319.9" r="2.2"/><circle cx="1126.1" cy="321.8" r="2.2"/><circle cx="1125.3" cy="328.4" r="2.2"/><circle cx="1125.0" cy="325.5" r="2.2"/><circle cx="1123.7" cy="319.5" r="2.2"/><circle cx="1122.4" cy="320.8" r="2.2"/><circle cx="1125.2" cy="323.4" r="2.2"/><circle cx="1124.7" cy="327.6" r="2.2"/><circle cx="1122.8" cy="321.5" r="2.2"/><circle cx="1125.3" cy="319.7" r="2.2"/><circle cx="1122.2" cy="322.7" r="2.2"/><circle cx="1122.7" cy="322.7" r="2.2"/><circle cx="1123.3" cy="324.8" r="2.2"/><circle cx="1125.0" cy="321.3" r="2.2"/><circle cx="1125.2" cy="323.8" r="2.2"/><circle cx="1122.8" cy="327.9" r="2.2"/><circle cx="1123.4" cy="320.8" r="2.2"/><circle cx="1122.7" cy="325.2" r="2.2"/><circle cx="1126.4" cy="326.5" r="2.2"/><circle cx="1124.1" cy="321.9" r="2.2"/><circle cx="1122.3" cy="325.3" r="2.2"/><circle cx="1124.9" cy="322.7" r="2.2"/><circle cx="1125.3" cy="323.5" r="2.2"/><circle cx="1126.7" cy="326.1" r="2.2"/><circle cx="1123.4" cy="327.6" r="2.2"/><circle cx="1122.4" cy="324.3" r="2.2"/><circle cx="1124.1" cy="321.6" r="2.2"/><circle cx="1122.5" cy="326.5" r="2.2"/><circle cx="1122.3" cy="324.5" r="2.2"/><circle cx="1126.7" cy="320.8" r="2.2"/><circle cx="1123.2" cy="325.0" r="2.2"/><circle cx="1124.6" cy="325.3" r="2.2"/><circle cx="1126.1" cy="321.1" r="2.2"/><circle cx="1123.7" cy="322.2" r="2.2"/><circle cx="1122.4" cy="327.5" r="2.2"/><circle cx="1126.0" cy="325.9" r="2.2"/><circle cx="1122.2" cy="327.1" r="2.2"/><circle cx="1125.8" cy="323.7" r="2.2"/><circle cx="1125.8" cy="323.6" r="2.2"/><circle cx="1123.3" cy="320.4" r="2.2"/><circle cx="1123.3" cy="319.8" r="2.2"/><circle cx="1123.8" cy="326.2" r="2.2"/><circle cx="1125.5" cy="327.1" r="2.2"/><circle cx="1125.6" cy="321.9" r="2.2"/><circle cx="1124.9" cy="323.4" r="2.2"/><circle cx="1126.0" cy="324.2" r="2.2"/><circle cx="1123.5" cy="325.3" r="2.2"/><circle cx="1126.8" cy="321.5" r="2.2"/><circle cx="1126.4" cy="319.6" r="2.2"/><circle cx="1123.4" cy="321.6" r="2.2"/><circle cx="1125.8" cy="328.0" r="2.2"/><circle cx="1125.8" cy="322.4" r="2.2"/><circle cx="1126.4" cy="322.5" r="2.2"/><circle cx="1118.3" cy="340.0" r="2.2"/><circle cx="1120.2" cy="339.0" r="2.2"/><circle cx="1120.7" cy="343.3" r="2.2"/><circle cx="1123.4" cy="355.5" r="2.2"/><circle cx="1122.9" cy="359.3" r="2.2"/><circle cx="1119.1" cy="362.6" r="2.2"/><circle cx="1122.8" cy="363.5" r="2.2"/>
</g>
<g stroke="#000"><line x1="722.4" y1="455.3" x2="741.5" y2="455.3" stroke-width="1.6"/><line x1="732.6" y1="445.6" x2="732.6" y2="466.4" stroke-width="2"/></g>
<g fill="none" stroke-width="1" stroke-linejoin="round">
<polyline points="183.5,641.7 532.5,522.2 732.5,453.5 932.5,384.9 1281.5,263.6" stroke="#00ff00"/>
<polyline points="183.5,642.9 532.5,518.7 732.5,448.4 932.5,377.8 1281.5,253.5" stroke="#0000ff"/>
<polyline points="183.5,640.3 532.5,525.1 732.5,459.4 932.5,394.0 1281.5,278.5" stroke="#ff0000"/>
</g>
<text x="215.6 223.8 237.1" y="870.1" font-size="20.83" fill="#262626">-50</text>
<text x="315.6 323.8 337.1" y="870.1" font-size="20.83" fill="#262626">-40</text>
<text x="414.6 422.8 436.1" y="870.1" font-size="20.83" fill="#262626">-30</text>
<text x="514.6 522.8 536.1" y="870.1" font-size="20.83" fill="#262626">-20</text>
<text x="614.6 622.8 636.1" y="870.1" font-size="20.83" fill="#262626">-10</text>
<text x="724.87" y="870.1" font-size="20.83" fill="#262626">0</text>
<text x="818.85" y="870.1" font-size="20.83" fill="#262626">10</text>
<text x="918.85" y="870.1" font-size="20.83" fill="#262626">20</text>
<text x="1017.85" y="870.1" font-size="20.83" fill="#262626">30</text>
<text x="1117.85" y="870.1" font-size="20.83" fill="#262626">40</text>
<text x="1217.85" y="870.1" font-size="20.83" fill="#262626">50</text>
<text x="140.48" y="847.90" font-size="20.83" fill="#262626">-40</text>
<text x="140.48" y="751.90" font-size="20.83" fill="#262626">-30</text>
<text x="140.48" y="655.90" font-size="20.83" fill="#262626">-20</text>
<text x="140.48" y="559.90" font-size="20.83" fill="#262626">-10</text>
<text x="161.25" y="462.90" font-size="20.83" fill="#262626">0</text>
<text x="147.99" y="366.90" font-size="20.83" fill="#262626">10</text>
<text x="147.99" y="270.90" font-size="20.83" fill="#262626">20</text>
<text x="147.99" y="174.90" font-size="20.83" fill="#262626">30</text>
<text x="147.99" y="77.90" font-size="20.83" fill="#262626">40</text>
<text x="591.7 617.9 641.0 651.0 661.1 673.2 699.3 722.5 746.6 761.7 776.8 799.9 810.0 822.1 837.1 856.3" y="913.8" font-size="37.5" fill="#262626">Roll Control [°]</text>
<g transform="translate(122,517.8) rotate(-90)">
<text x="-3.7 22.3 45.2 55.2 65.2 77.1 92.1 111.1" y="0" font-size="37.5" fill="#262626">Roll [°]</text>
</g>
<text x="-143.25" y="46.8" font-size="45.83" font-weight="bold" fill="#000">SG558 Bellingshausen2020, dive 347 started 04-Mar-2020 00:46:28</text>
<text x="402.7" y="187" font-size="31.25" fill="#000">C</text>
<text x="424.7 435.1 450.7 458.0" y="201.9" font-size="25" fill="#000">roll</text>
<text x="474.8 500.8 510.8 530.8 550.8 570.8" y="187" font-size="31.25" fill="#000">= 1924</text>
<text x="659.4" y="187" font-size="31.25" fill="#000">C</text>
<text x="683.1 699.2 706.3 721.3" y="172.6" font-size="25" fill="#000">dive</text>
<text x="682.6 693.0 708.6 715.9" y="201.9" font-size="25" fill="#000">roll</text>
<text x="747.6 773.6 783.6 803.6 823.6 843.6" y="187" font-size="31.25" fill="#000">= 1997</text>
<text x="922.6" y="187" font-size="31.25" fill="#000">C</text>
<text x="945.9 960.0 967.0 974.0 998.1" y="172.6" font-size="25" fill="#000">climb</text>
<text x="945.5 955.9 971.5 978.8" y="201.9" font-size="25" fill="#000">roll</text>
<text x="1024.4 1050.4 1060.4 1080.4 1100.4 1120.4" y="187" font-size="31.25" fill="#000">= 1852</text>
<text x="293.8 315.8 334.8 343.8 352.8 362.7 379.7 398.7 418.7 430.7 443.6 462.6 471.6 481.6 494.6 513.6 533.5 553.5 572.5 582.5 608.4 618.4 629.4 649.4 669.4 679.3 699.3 719.3 739.3 759.2 769.2 781.2 800.2 810.2 830.1 850.1 860.1 880.1 900.1 920.0 940.0 950.0" y="236.7" font-size="31.25" fill="#000">Roll control range = -47.9644 to 53.8451 °</text>
<text x="293.5 302.6 332.7 352.8 361.9 370.9 390.0 410.1 420.2" y="285.2" font-size="31.25" fill="#000">Implied C</text>
<text x="440.9 451.3 466.9 474.2" y="299.6" font-size="25" fill="#000">roll</text>
<text x="490.4 516.4 526.4 546.4 566.4 586.4" y="285.2" font-size="31.25" fill="#000">= 1898</text>
<text x="675.4" y="285.2" font-size="31.25" fill="#000">C</text>
<text x="699.7 716.0 723.1 738.3" y="270.6" font-size="25" fill="#000">dive</text>
<text x="699.4 709.8 725.4 732.7" y="299.6" font-size="25" fill="#000">roll</text>
<text x="763.3 789.3 799.3 819.3 839.3 859.3" y="285.2" font-size="31.25" fill="#000">= 1923</text>
<text x="939.7" y="285.2" font-size="31.25" fill="#000">C</text>
<text x="963.0 977.0 984.0 991.0 1015.0" y="270.6" font-size="25" fill="#000">climb</text>
<text x="962.6 973.0 988.6 995.9" y="299.6" font-size="25" fill="#000">roll</text>
<text x="1040.5 1066.5 1076.5 1096.5 1116.5 1136.5" y="285.2" font-size="31.25" fill="#000">= 1892</text>
<text x="292.7 301.7 331.7 351.7 360.7 369.7 388.7 408.7 418.7 431.7 450.7 459.7 468.7 478.7 495.7 514.7 534.7 546.7 559.7 578.7 587.7 597.7 610.7 629.7 649.7 669.7 688.7 698.7 724.7 734.7 745.7 765.7 785.7 795.7 815.7 835.7 855.7 875.7 885.7 897.7 916.7 926.7 946.7 966.7 976.7 996.7 1016.7 1036.7 1056.7 1066.7" y="334.9" font-size="31.25" fill="#000">Implied roll control range = -47.2236 to 54.5858 °</text>
<text x="294.0 315.0 331.0 347.0 367.0 397.0 416.0 436.0 446.0 459.0 478.0 487.0 496.0 506.0 523.0 542.0 562.0 574.0 587.0 606.0" y="372.9" font-size="31.25" fill="#000">Assumed roll control</text>
<text x="625.5 645.3 664.1 673.1 692.9 702.8 728.6 738.5 758.3 778.1 788.0 807.8" y="372.9" font-size="31.25" fill="#000">gain = 35.37</text>
<text x="837.4 854.6 873.9 894.2 914.5 926.7 942.9 954.1 970.3 980.5 992.6 1011.9 1022.1 1038.3 1050.5 1070.8" y="372.9" font-size="31.25" fill="#000">counts/° to stbd</text>
<text x="457.7 479.7 498.7 507.7 516.7 526.7 539.7 555.7 568.7 578.7 604.7 614.7 634.7 644.7 664.7 684.7 704.7 724.7 744.7" y="693.1" font-size="31.25" fill="#000">Roll (°) = 0.264932</text>
<text x="775.0" y="693.1" font-size="31.25" fill="#000">°</text>
<text x="801.9" y="693.1" font-size="31.25" fill="#000">+</text>
<text x="838.8 860.8 879.8 888.8" y="693.1" font-size="31.25" fill="#000">Roll</text>
<text x="906.0 922.9 941.8 961.7 973.7 986.6 1005.5 1014.5 1024.4 1037.3 1053.3 1066.2 1076.1 1092.1 1102.0 1121.9 1131.9 1151.8 1171.7 1191.6 1211.5 1231.4" y="693.1" font-size="31.25" fill="#000">control (°) * 0.357653</text>
<text x="457.7 479.7 498.7 507.7" y="730.9" font-size="31.25" fill="#000">Roll</text>
<text x="516.8 532.7 539.7 554.5" y="744.7" font-size="25" fill="#000">dive</text>
<text x="580.9 593.9 609.9 622.9 632.9 658.9 668.9 688.9 698.9 718.9 738.9 758.9 778.9 798.9" y="730.9" font-size="31.25" fill="#000">(°) = 0.768204</text>
<text x="829.2" y="730.9" font-size="31.25" fill="#000">°</text>
<text x="856.4" y="730.9" font-size="31.25" fill="#000">+</text>
<text x="892.0 914.0 933.0 942.0" y="730.9" font-size="31.25" fill="#000">Roll</text>
<text x="961.0 983.0 1002.0 1022.0 1034.0 1047.0 1066.0 1075.0 1085.0 1098.0 1114.0" y="730.9" font-size="31.25" fill="#000">Control (°)</text>
<text x="1136.0" y="730.9" font-size="31.25" fill="#000">*</text>
<text x="1160.1 1180.1 1190.1 1210.1 1230.0 1250.0 1269.9 1289.9" y="730.9" font-size="31.25" fill="#000">0.367821</text>
<text x="457.7 479.7 498.7 507.7" y="781.4" font-size="31.25" fill="#000">Roll</text>
<text x="517.2 531.1 538.1 545.0 568.8" y="795.2" font-size="25" fill="#000">climb</text>
<text x="595.1 608.1 624.1 637.1 647.1 673.1 683.1 703.1 713.1 733.1 753.1 773.1 793.1 813.1" y="781.4" font-size="31.25" fill="#000">(°) = 0.768204</text>
<text x="843.7" y="781.4" font-size="31.25" fill="#000">°</text>
<text x="870.9" y="781.4" font-size="31.25" fill="#000">+</text>
<text x="906.5 928.5 947.5 956.5" y="781.4" font-size="31.25" fill="#000">Roll</text>
<text x="975.5 997.5 1016.5 1036.5 1048.5 1061.5 1080.5 1089.5 1099.5 1112.5 1128.5" y="781.4" font-size="31.25" fill="#000">Control (°)</text>
<text x="1150.0" y="781.4" font-size="31.25" fill="#000">*</text>
<text x="1174.2 1194.1 1204.1 1224.0 1243.9 1263.8 1283.8 1303.7" y="781.4" font-size="31.25" fill="#000">0.341393</text>
<rect x="1102.5" y="370.5" width="158" height="169" fill="#fff" stroke="#262626" stroke-width="1" shape-rendering="crispEdges"/>
<circle cx="1141.9" cy="390.2" r="2.2" fill="#0000ff"/><circle cx="1141.9" cy="422.7" r="2.2" fill="#ff0000"/>
<g stroke-width="1" shape-rendering="crispEdges"><line x1="1110" y1="454.5" x2="1173.4" y2="454.5" stroke="#00ff00"/><line x1="1110" y1="487.5" x2="1173.4" y2="487.5" stroke="#0000ff"/><line x1="1110" y1="519.5" x2="1173.4" y2="519.5" stroke="#ff0000"/></g>
<g fill="#000" font-size="25">
<text x="1179.3" y="399.8">Dive</text>
<text x="1179.3" y="432.1">Climb</text>
<text x="1179.3" y="464.4">data1</text>
<text x="1179.3" y="496.7">data2</text>
<text x="1179.3" y="529.0">data3</text>
</g>
</svg></body></html>
